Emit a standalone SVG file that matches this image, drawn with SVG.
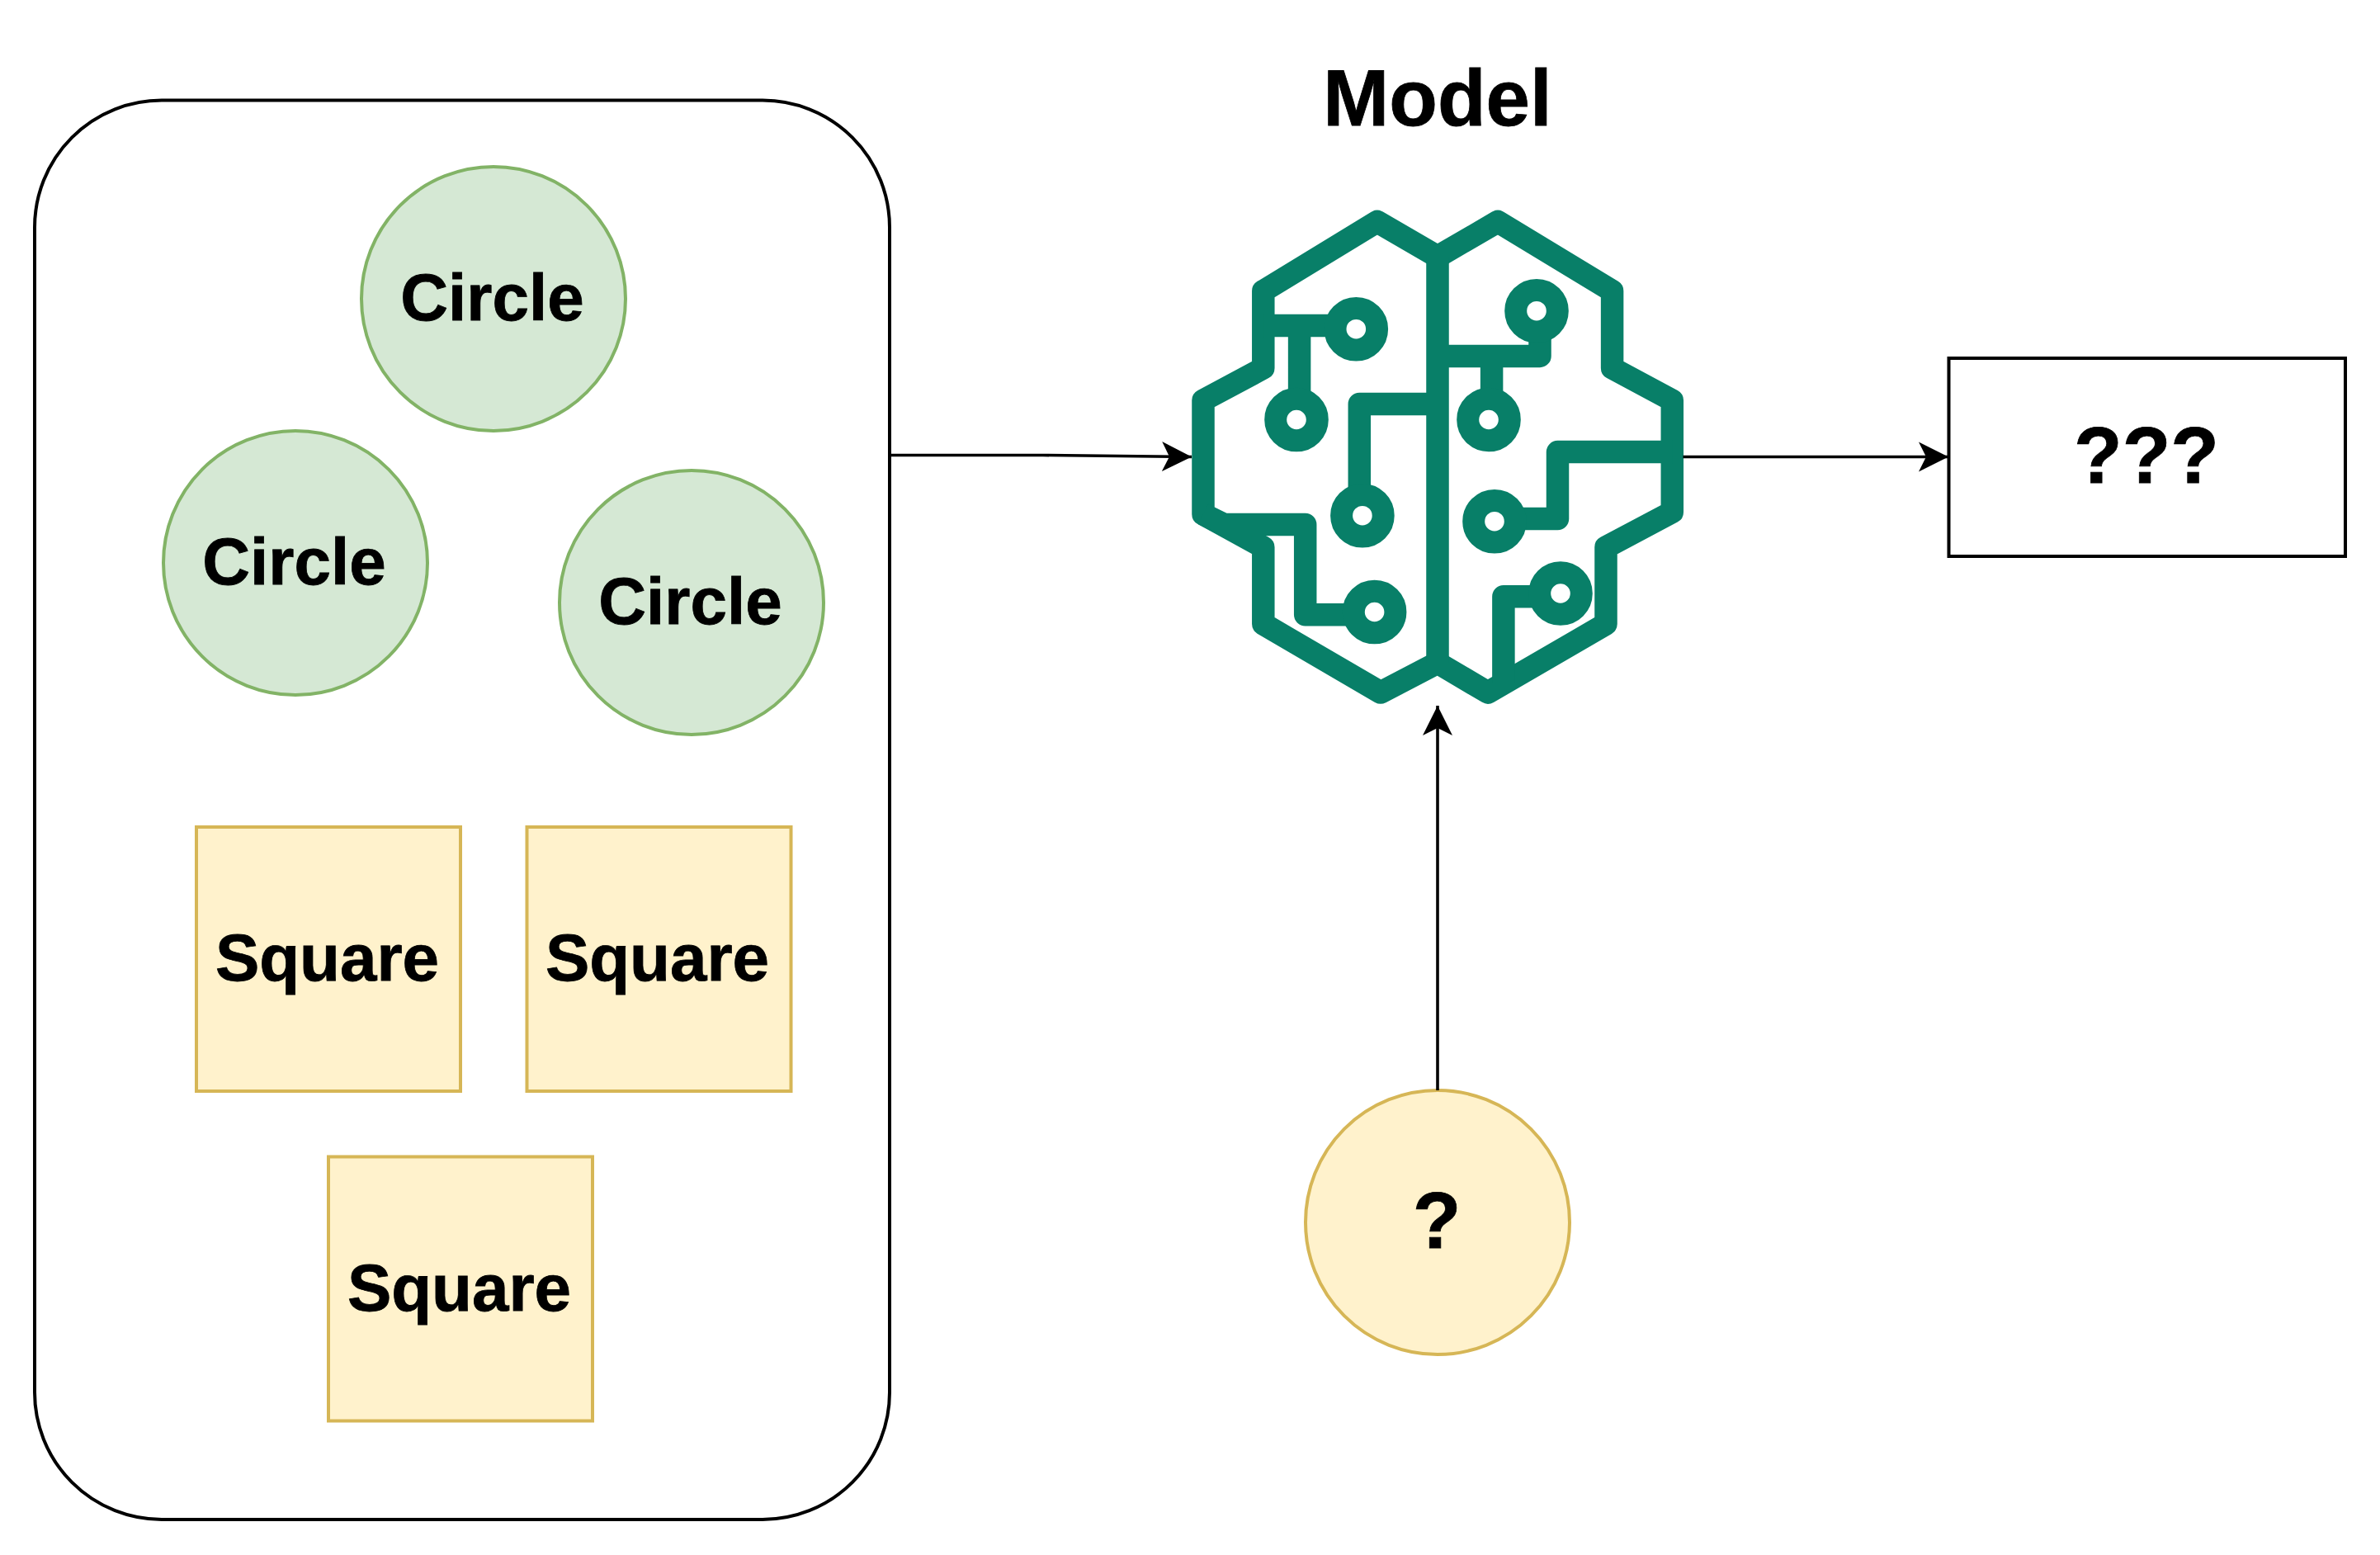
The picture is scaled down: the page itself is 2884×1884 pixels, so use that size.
<svg xmlns="http://www.w3.org/2000/svg" width="2884" height="1884" viewBox="0 0 2884 1884">
<style>
text{font-family:"Liberation Sans",Arial,sans-serif;font-weight:700;fill:#000;stroke:#000;stroke-width:.8;text-anchor:middle}
.t80{font-size:80px}.t96{font-size:96px}
.green{fill:#d5e8d4;stroke:#82b366;stroke-width:4}
.yellow{fill:#fff2cc;stroke:#d6b656;stroke-width:4}
.box{fill:#fff;stroke:#000;stroke-width:4}
.edge{fill:none;stroke:#000;stroke-width:3.6}
.brain{fill:none;stroke:#087f68;stroke-width:27.5;stroke-linejoin:round}
.ring{fill:#fff;stroke:#087f68;stroke-width:27}
</style>
<defs><marker id="arrow" markerUnits="userSpaceOnUse" markerWidth="40" markerHeight="40" refX="36" refY="20" orient="auto"><path d="M36 20L0 38L9 20L0 2Z" fill="#000"/></marker></defs>
<rect width="2884" height="1884" fill="#fff"/>
<g id="container"><rect class="box" x="42" y="121.500" width="1036" height="1719.500" rx="154" ry="154"/></g>
<g id="circle-top"><circle class="green" cx="598" cy="362" r="160"/><text class="t80" x="596.500" y="388">Circle</text></g>
<g id="circle-left"><circle class="green" cx="358" cy="682" r="160"/><text class="t80" x="356.500" y="708">Circle</text></g>
<g id="circle-right"><circle class="green" cx="838" cy="730" r="160"/><text class="t80" x="836.500" y="756">Circle</text></g>
<g id="square-left"><rect class="yellow" x="238" y="1002" width="320" height="320"/><text class="t80" x="396.500" y="1188">Square</text></g>
<g id="square-right"><rect class="yellow" x="638.500" y="1002" width="320" height="320"/><text class="t80" x="796.500" y="1188">Square</text></g>
<g id="square-bottom"><rect class="yellow" x="398" y="1401.500" width="320" height="320"/><text class="t80" x="556.500" y="1588">Square</text></g>
<g id="model">
<text class="t96" x="1742" y="152">Model</text>
<path class="brain" d="M1668.800 268.500L1742 311L1815 268.500L1953.600 352.600V446L2026.300 485V620.400L1946 663V756L1803 839L1742 803L1673 839L1530.800 756V663L1458 623V485L1530.800 446V352.600Z"/>
<path class="brain" d="M1742 311V803M1530.800 394.500H1643M1574.600 394.500V508M1742 489.500H1647.300V624M1458 623L1483 635.400H1581.700V744.700H1665M1742 431.400H1866V376M1807.600 431.400V508M2026.300 547.600H1887.500V628.500H1811M1891 722.800H1821.900V828"/>
<circle class="ring" cx="1643.300" cy="398.700" r="25.300"/>
<circle class="ring" cx="1571" cy="508.500" r="25.300"/>
<circle class="ring" cx="1650.900" cy="624.700" r="25.300"/>
<circle class="ring" cx="1665.600" cy="741.500" r="25.300"/>
<circle class="ring" cx="1862" cy="376.700" r="25.300"/>
<circle class="ring" cx="1804" cy="508.500" r="25.300"/>
<circle class="ring" cx="1811" cy="631.700" r="25.300"/>
<circle class="ring" cx="1891" cy="719" r="25.300"/>
</g>
<g id="query"><circle class="yellow" cx="1742" cy="1481" r="160"/><text class="t96" x="1741" y="1512">?</text></g>
<g id="output"><rect class="box" x="2361.500" y="434" width="480.500" height="240"/><text class="t96" x="2601" y="585">???</text></g>
<g id="connectors">
<path class="edge" marker-end="url(#arrow)" d="M1078 551.500H1264L1444 553.500"/>
<path class="edge" marker-end="url(#arrow)" d="M2039.500 553.500H2361"/>
<path class="edge" marker-end="url(#arrow)" d="M1742 1321V855"/>
</g>
</svg>
